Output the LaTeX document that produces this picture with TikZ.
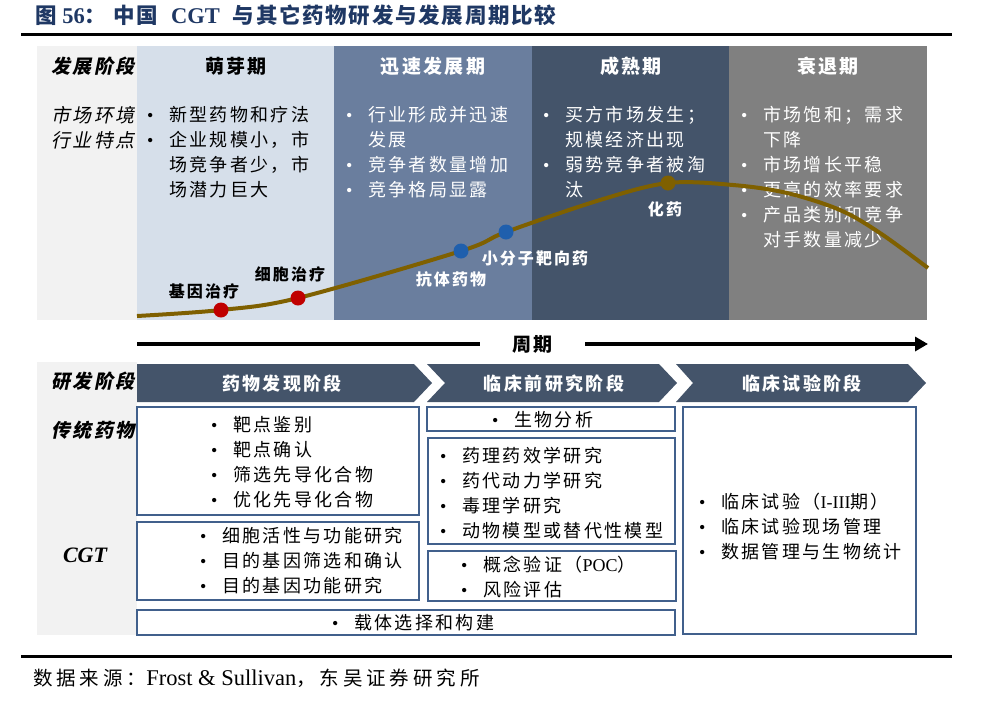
\documentclass[tikz,border=0pt]{standalone}
\usepackage{fontspec}
\usepackage{xcolor}
\usepackage{tikz}
\usetikzlibrary{arrows.meta}
\setmainfont{Liberation Serif}
\newfontfamily\cjk{Noto Sans CJK SC}[LetterSpace=13]
\newfontfamily\cjkit{Noto Sans CJK SC}[FakeSlant=0.2,LetterSpace=13]
\newfontfamily\cjkt{Noto Sans CJK SC}[LetterSpace=8]
\newfontfamily\cjks{Noto Sans CJK SC}[LetterSpace=20]

\definecolor{titleblue}{HTML}{1F3864}
\definecolor{sidegray}{HTML}{F2F2F2}
\definecolor{sprout}{HTML}{D6DFEA}
\definecolor{growth}{HTML}{6A7E9E}
\definecolor{mature}{HTML}{44546A}
\definecolor{decline}{HTML}{808080}
\definecolor{curvebrown}{HTML}{7F6000}
\definecolor{dotred}{HTML}{C00000}
\definecolor{dotblue}{HTML}{1F5FAD}
\definecolor{boxblue}{HTML}{41608C}

\newcommand{\bu}{\makebox[22pt][l]{\rmfamily\textbullet}}
\newcommand{\nb}{\hspace*{22pt}}
% one node per text line, 25pt apart
\newcommand{\itemlines}[5]{%
  \foreach \t [count=\i] in {#5}{\node[#1] (#2\i) at (#3,{#4+25*(\i-1)}) {\t};}}

\tikzset{
  itemline/.style={anchor=west, inner sep=0pt, font=\fontsize{18}{25}\cjk},
  sidelabel/.style={inner sep=0pt, font=\fontsize{19}{22}\cjkit},
  stagehead/.style={inner sep=0pt, font=\fontsize{19}{22}\cjk\bfseries},
  curvelabel/.style={inner sep=0pt, font=\fontsize{16}{18}\cjk\bfseries},
  chevtext/.style={inner sep=0pt, text=white, font=\fontsize{18}{22}\cjk\bfseries},
  boxline/.style={draw=boxblue, line width=1.5pt, fill=white},
  rule/.style={line width=3pt},
}

\begin{document}
\begin{tikzpicture}[x=1pt, y=-1pt]
\useasboundingbox (0,0) rectangle (991,702);

% title
\node[anchor=west, inner sep=0pt, text=titleblue, font=\fontsize{22.5}{26}\selectfont\bfseries] (title) at (35,15)
  {{\fontsize{21.5}{26}\cjkt 图}\ 56{\fontsize{21.5}{26}\cjkt ：\hspace{7pt}中国}\hspace{13pt}CGT\hspace{13pt}{\fontsize{21.5}{26}\cjkt 与其它药物研发与发展周期比较}};
\draw[rule] (21,34) -- (952,34);

% life cycle panel
\fill[sidegray] (37,46) rectangle (137,320);
\fill[sprout] (137,46) rectangle (334,320);
\fill[growth] (334,46) rectangle (532,320);
\fill[mature] (532,46) rectangle (729,320);
\fill[decline] (729,46) rectangle (927,320);

\node[sidelabel, font=\fontsize{19}{22}\cjkit\bfseries] (devstage) at (93,66) {发展阶段};
\node[sidelabel] (market) at (93,115) {市场环境};
\node[sidelabel] (feature) at (93,140) {行业特点};

\node[stagehead] (sprouthead) at (236,66) {萌芽期};
\node[stagehead, text=white] (growthhead) at (433,66) {迅速发展期};
\node[stagehead, text=white] (maturehead) at (631,66) {成熟期};
\node[stagehead, text=white] (declinehead) at (828,66) {衰退期};

\itemlines{itemline}{sp}{147}{115}{\bu 新型药物和疗法, \bu 企业规模小，市, \nb 场竞争者少，市, \nb 场潜力巨大}
\itemlines{itemline, text=white}{gr}{346}{115}{\bu 行业形成并迅速, \nb 发展, \bu 竞争者数量增加, \bu 竞争格局显露}
\itemlines{itemline, text=white}{ma}{543}{115}{\bu 买方市场发生；, \nb 规模经济出现, \bu 弱势竞争者被淘, \nb 汰}
\itemlines{itemline, text=white}{de}{741}{115}{\bu 市场饱和；需求, \nb 下降, \bu 市场增长平稳, \bu 更高的效率要求, \bu 产品类别和竞争, \nb 对手数量减少}

% cycle curve
\coordinate (gene) at (221,310);
\coordinate (cell) at (298,298);
\coordinate (antib) at (461,251);
\coordinate (smallmol) at (506,232);
\coordinate (chem) at (668,183);
\draw[curvebrown, line width=4pt] plot[smooth, tension=0.55] coordinates
  {(137,316) (gene) (cell) (antib) (smallmol) (600,200) (chem) (733,185) (787,193) (840,210) (880,233) (928,268)};
\fill[dotred] (gene) circle (7.5pt);
\fill[dotred] (cell) circle (7.5pt);
\fill[dotblue] (antib) circle (7.5pt);
\fill[dotblue] (smallmol) circle (7.5pt);
\fill[curvebrown] (chem) circle (7.5pt);

\node[curvelabel] (genelabel) at (204,291) {基因治疗};
\node[curvelabel] (celllabel) at (290,274) {细胞治疗};
\node[curvelabel, text=white] (antiblabel) at (451,279) {抗体药物};
\node[curvelabel, text=white] (smallmollabel) at (535,258) {小分子靶向药};
\node[curvelabel, text=white] (chemlabel) at (665,209) {化药};

% cycle arrow
\coordinate (cycstart) at (137,344);
\coordinate (cycend) at (928,344);
\draw[line width=3.5pt, -{Triangle[length=13pt, width=14pt]}] (cycstart) --
  node[fill=white, inner xsep=32pt, inner ysep=2pt, font=\fontsize{19}{22}\cjk\bfseries] (cyclelabel) {周期} (cycend);

% R&D panel
\fill[sidegray] (37,362) rectangle (137,635);
\node[sidelabel, font=\fontsize{19}{22}\cjkit\bfseries] (rdstage) at (93,381) {研发阶段};
\node[sidelabel, font=\fontsize{19}{22}\cjkit\bfseries] (tradlabel) at (93,430) {传统药物};
\node[inner sep=0pt, font=\fontsize{22}{24}\selectfont\bfseries\itshape] (cgtlabel) at (85,555) {CGT};

\foreach \l/\n/\b in {137/0/414, 427/18/659, 676/17/908}
  \fill[mature] (\l,364) -- (\b,364) -- ({\b+18},383) -- (\b,402) -- (\l,402) -- ({\l+\n},383) -- cycle;
\node[chevtext] (discovery) at (282,384) {药物发现阶段};
\node[chevtext] (preclinical) at (554,384) {临床前研究阶段};
\node[chevtext] (clinical) at (802,384) {临床试验阶段};

\draw[boxline] (137,407) rectangle (419,515);
\draw[boxline] (137,522) rectangle (419,600);
\draw[boxline] (137,610) rectangle (675,635);
\draw[boxline] (427,407) rectangle (675,431);
\draw[boxline] (428,438) rectangle (675,544);
\draw[boxline] (428,551) rectangle (676,601);
\draw[boxline] (683,407) rectangle (916,634);

\itemlines{itemline}{ta}{211}{425}{\bu 靶点鉴别, \bu 靶点确认, \bu 筛选先导化合物, \bu 优化先导化合物}
\itemlines{itemline}{cg}{200}{536}{\bu 细胞活性与功能研究, \bu 目的基因筛选和确认, \bu 目的基因功能研究}
\itemlines{itemline}{ve}{332}{623}{\bu 载体选择和构建}
\itemlines{itemline}{bi}{492}{420}{\bu 生物分析}
\itemlines{itemline}{ph}{440}{456}{\bu 药理药效学研究, \bu 药代动力学研究, \bu 毒理学研究, \bu 动物模型或替代性模型}
\itemlines{itemline}{po}{461}{565}{\bu 概念验证（{\rmfamily POC}）, \bu 风险评估}
\itemlines{itemline}{cl}{699}{502}{\bu 临床试验（{\rmfamily I-III}期）, \bu 临床试验现场管理, \bu 数据管理与生物统计}

% source
\draw[rule] (21,656) -- (952,656);
\node[anchor=west, inner sep=0pt, font=\fontsize{22.5}{26}\selectfont] (source) at (33,678)
  {{\fontsize{19.5}{26}\cjks 数据来源：}Frost \& Sullivan{\fontsize{19.5}{26}\cjks ，东吴证券研究所}};
\end{tikzpicture}
\end{document}
